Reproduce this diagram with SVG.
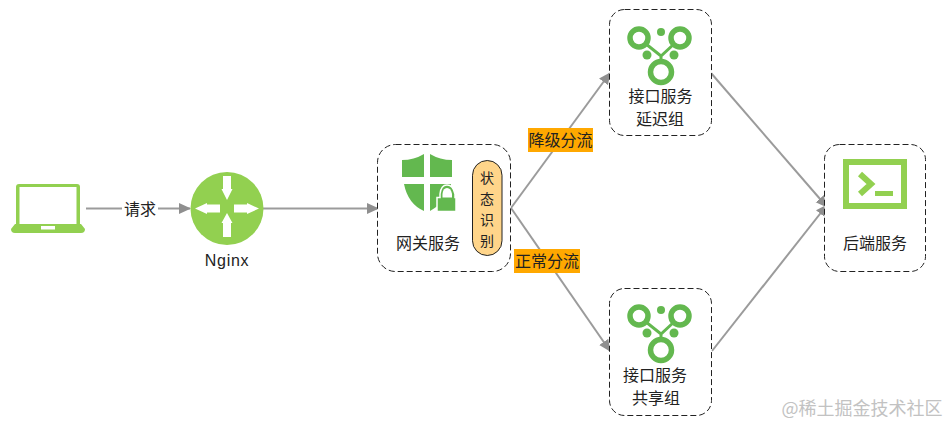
<svg xmlns="http://www.w3.org/2000/svg" width="948" height="426" viewBox="0 0 948 426">
<style>
text{font-family:"Noto Sans CJK SC","Liberation Sans",sans-serif;font-size:16px;fill:#222;text-anchor:middle}
text.st{font-size:14px}
.box{fill:#fff;stroke:#222;stroke-width:1;stroke-dasharray:6 3}
.conn{fill:none;stroke:#9b9b9b;stroke-width:2}
.lg{fill:#92d050}
.g{fill:#63b84f}
.ring{fill:none;stroke:#63b84f;stroke-width:5.500}
.link{fill:none;stroke:#63b84f;stroke-width:3}
.tag{fill:#ffa800}
</style>
<defs>
<marker id="ah" viewBox="0 0 12 12" refX="11" refY="6" markerWidth="12" markerHeight="12" markerUnits="userSpaceOnUse" orient="auto"><path d="M0 0.500L12 6L0 11.500Z" fill="#8f8f8f"/></marker>
<g id="tree">
<path class="link" d="M-14-8L1 4L14-8M1 4V10"/>
<circle class="ring" cx="-21" cy="-14" r="9"/><circle class="ring" cx="20" cy="-14" r="9"/><circle class="ring" cx="1" cy="20" r="10.500"/>
<circle class="g" cx="1" cy="-20" r="4"/><circle class="g" cx="-13" cy="3" r="4.500"/><circle class="g" cx="14" cy="3" r="4.500"/>
</g>
</defs>
<g id="connectors">
<path class="conn" d="M86 208.500H190" marker-end="url(#ah)"/>
<path class="conn" d="M263 208.500H378" marker-end="url(#ah)"/>
<path class="conn" d="M511 208L610 73" marker-end="url(#ah)"/>
<path class="conn" d="M511 208L610 351" marker-end="url(#ah)"/>
<path class="conn" d="M711 73L827 207" marker-end="url(#ah)"/>
<path class="conn" d="M712 351L827 205" marker-end="url(#ah)"/>
</g>
<g id="label-request"><rect x="122" y="199" width="36" height="19" fill="#fff"/><text x="140" y="215">请求</text></g>
<g id="client">
<path class="lg" d="M19 184H77a3 3 0 0 1 3 3V226H16V187a3 3 0 0 1 3-3ZM19.500 187V224H76.500V187Z" fill-rule="evenodd"/>
<path class="lg" d="M15 224H81L85 229Q85 233 81 233H15Q11 233 11 229ZM41 226V229.500H55V226Z" fill-rule="evenodd"/>
</g>
<g id="nginx">
<circle class="lg" cx="227" cy="208.500" r="36.500"/>
<path fill="#fff" d="M223 176H231V189H232.500L227 200L221.500 189H223ZM223 237H231V223H232.500L227 213L221.500 223H223ZM220 204.500V212.500H207V214L195 208.500L207 203V204.500ZM234 204.500V212.500H247V214L259 208.500L247 203V204.500Z"/>
<text x="227" y="266" style="font-family:'Liberation Sans',sans-serif;letter-spacing:.7px">Nginx</text>
</g>
<g id="gateway">
<rect class="box" x="377.500" y="144.500" width="133" height="127" rx="18"/>
<path class="g" d="M424 154V177H402V160Q414 160 424 154ZM430 154V177H452V160Q440 160 430 154ZM424 184V211Q408 204 404 184ZM430 184H451Q449 200 430 211Z"/>
<path class="g" stroke="#fff" stroke-width="1.500" d="M437 197.500H440V194Q441 185 447 185Q453 185 455 194V197.500H456V211.500H437Z"/>
<path fill="#fff" d="M442.500 197.500V194Q443 188 447 188Q451 188 452 194V197.500Z"/>
<text x="428" y="249">网关服务</text>
<rect x="472.500" y="160.500" width="29.500" height="95" rx="14.750" fill="#ffd58a" stroke="#222" stroke-width="1"/>
<text class="st" x="487" y="183">状</text><text class="st" x="487" y="204">态</text><text class="st" x="487" y="225">识</text><text class="st" x="487" y="246">别</text>
</g>
<g id="group-delay">
<rect class="box" x="609.500" y="9.500" width="102" height="126" rx="15"/>
<use href="#tree" x="660" y="52"/>
<text x="660.500" y="102">接口服务</text><text x="660" y="125">延迟组</text>
</g>
<g id="group-shared">
<rect class="box" x="609.500" y="288.500" width="102" height="127" rx="15"/>
<use href="#tree" x="660" y="330"/>
<text x="655" y="381">接口服务</text><text x="656" y="404">共享组</text>
</g>
<g id="backend">
<rect class="box" x="824.500" y="144.500" width="101" height="127" rx="15"/>
<path class="lg" d="M843 159H907V209H843ZM849 165V203H901V165Z" fill-rule="evenodd"/>
<path fill="none" stroke="#92d050" stroke-width="6" d="M860 174L871 184L860 194"/>
<rect class="lg" x="875" y="191" width="18" height="5"/>
<text x="875" y="249">后端服务</text>
</g>
<g id="label-degrade"><rect class="tag" x="528" y="128" width="65" height="24"/><text x="560.500" y="146">降级分流</text></g>
<g id="label-normal"><rect class="tag" x="514" y="249" width="66" height="24"/><text x="547" y="267">正常分流</text></g>
<text x="862" y="415" style="font-family:'Noto Sans CJK SC',sans-serif;font-size:18px;fill:#c2c2c2">@稀土掘金技术社区</text>
</svg>
